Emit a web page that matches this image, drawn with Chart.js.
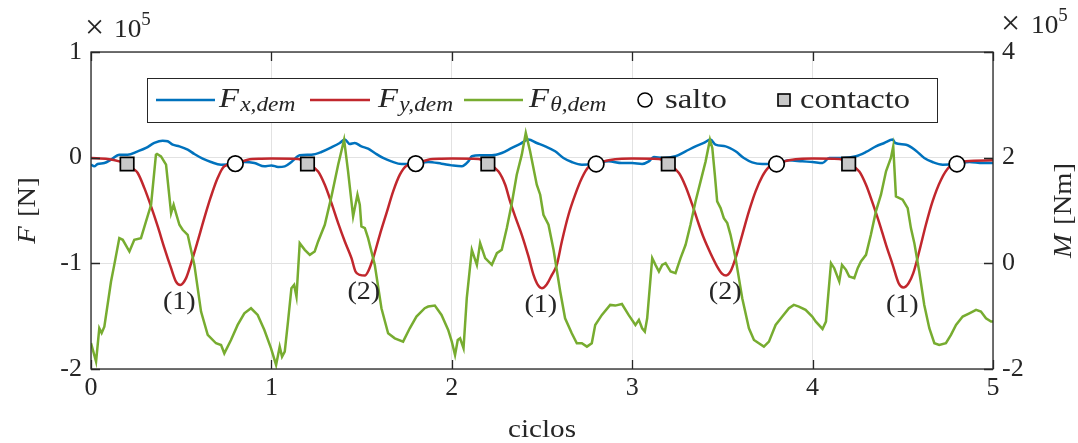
<!DOCTYPE html>
<html>
<head>
<meta charset="utf-8">
<script src="https://cdn.jsdelivr.net/npm/chart.js@4.4.0/dist/chart.umd.min.js"></script>
<style>
  html, body { margin: 0; padding: 0; background: #ffffff; }
  #wrap { width: 1078px; height: 443px; position: relative; }
</style>
</head>
<body>
<div id="wrap"><canvas id="grafico" width="1078" height="443"></canvas></div>
<script>
// Fuerzas en la dirección x (×10^5 N)
const fxCiclos = [0,0.018,0.037,0.074,0.111,0.157,0.203,0.259,0.305,0.351,0.397,0.425,0.453,0.49,0.536,0.573,0.619,0.665,0.721,0.795,0.85,0.906,0.961,
  1.0,1.037,1.074,1.111,1.157,1.222,1.277,1.333,1.379,1.407,1.434,1.462,1.499,1.536,1.573,1.619,1.665,1.721,1.795,1.869,1.943,
  2.0,2.055,2.092,2.111,2.157,2.222,2.277,2.333,2.379,2.425,2.471,2.518,2.573,2.619,2.665,2.721,2.795,2.869,2.943,
  3.0,3.055,3.092,3.12,3.166,3.24,3.296,3.351,3.397,3.434,3.462,3.518,3.573,3.619,3.665,3.721,3.795,3.869,3.943,
  4.0,4.055,4.092,4.166,4.24,4.296,4.351,4.397,4.444,4.458,4.518,4.573,4.619,4.665,4.721,4.795,4.869,4.943,5.0];
const fxValores = [-0.066,-0.082,-0.06,-0.051,-0.019,0.028,0.028,0.06,0.092,0.139,0.161,0.155,0.123,0.107,0.076,0.035,-0.009,-0.041,-0.066,-0.06,-0.041,-0.051,-0.082,
  -0.073,-0.088,-0.082,-0.041,0.022,0.028,0.054,0.098,0.139,0.171,0.13,0.139,0.107,0.085,0.044,-0.003,-0.035,-0.06,-0.057,-0.041,-0.057,
  -0.073,-0.082,-0.035,0.013,0.022,0.022,0.044,0.092,0.13,0.171,0.139,0.107,0.06,-0.003,-0.041,-0.066,-0.057,-0.035,-0.051,
  -0.051,-0.06,-0.035,0.006,-0.003,0.013,0.06,0.107,0.139,0.171,0.123,0.107,0.06,-0.003,-0.044,-0.06,-0.057,-0.025,-0.035,
  -0.041,-0.051,-0.003,-0.003,0.013,0.054,0.107,0.139,0.171,0.139,0.123,0.066,-0.003,-0.041,-0.066,-0.06,-0.041,-0.051,-0.051];

// Fuerzas en la dirección y (×10^5 N)
const fyCiclos = [0,0.092,0.157,0.194,0.24,0.259,0.296,0.333,0.37,0.407,0.444,0.471,0.495,0.527,0.555,0.591,0.628,0.665,0.702,0.739,0.8,0.869,0.943,
  1.0,1.148,1.2,1.259,1.296,1.333,1.37,1.407,1.444,1.466,1.49,1.518,1.536,1.564,1.601,1.638,1.675,1.712,1.749,1.8,1.869,1.943,
  2.0,2.148,2.2,2.259,2.296,2.323,2.351,2.388,2.425,2.453,2.477,2.499,2.527,2.555,2.582,2.61,2.647,2.684,2.721,2.758,2.8,2.869,2.943,
  3.0,3.148,3.2,3.259,3.296,3.333,3.37,3.397,3.434,3.471,3.499,3.521,3.545,3.573,3.61,3.647,3.684,3.721,3.758,3.8,3.869,3.943,
  4.0,4.148,4.2,4.259,4.296,4.333,4.37,4.407,4.444,4.477,4.503,4.532,4.558,4.591,4.628,4.665,4.712,4.758,4.8,4.85,5.0];
const fyValores = [-0.003,-0.012,-0.035,-0.06,-0.114,-0.145,-0.288,-0.461,-0.651,-0.856,-1.046,-1.172,-1.204,-1.14,-0.998,-0.793,-0.572,-0.367,-0.193,-0.082,-0.057,-0.019,-0.01,
  -0.009,-0.012,-0.06,-0.13,-0.256,-0.43,-0.619,-0.793,-0.951,-1.077,-1.109,-1.115,-1.077,-0.951,-0.73,-0.525,-0.319,-0.161,-0.076,-0.057,-0.019,-0.01,
  -0.009,-0.012,-0.06,-0.13,-0.256,-0.414,-0.556,-0.73,-0.935,-1.109,-1.204,-1.235,-1.197,-1.109,-1.014,-0.793,-0.54,-0.35,-0.193,-0.088,-0.06,-0.025,-0.01,
  -0.009,-0.012,-0.06,-0.145,-0.272,-0.445,-0.635,-0.761,-0.904,-1.03,-1.1,-1.115,-1.077,-0.951,-0.73,-0.509,-0.319,-0.177,-0.088,-0.06,-0.025,-0.01,
  -0.009,-0.012,-0.06,-0.13,-0.256,-0.43,-0.619,-0.825,-1.014,-1.188,-1.229,-1.188,-1.093,-0.888,-0.635,-0.414,-0.209,-0.088,-0.06,-0.035,-0.025];

// Momento (×10^5 Nm), eje derecho
const ftCiclos = [0,0.028,0.046,0.059,0.074,0.111,0.129,0.157,0.176,0.213,0.24,0.277,0.305,0.333,0.36,0.366,0.388,0.416,0.444,0.458,0.471,0.49,0.508,0.536,0.573,0.61,0.647,0.693,0.721,0.739,0.776,0.813,0.85,0.887,0.924,0.961,0.998,1.026,
  1.046,1.059,1.074,1.092,1.111,1.126,1.139,1.157,1.185,1.213,1.24,1.259,1.296,1.333,1.37,1.403,1.425,1.453,1.477,1.49,1.499,1.518,1.536,1.573,1.61,1.647,1.684,1.73,1.767,1.804,1.85,1.869,1.906,1.943,1.98,
  2.0,2.018,2.033,2.046,2.065,2.083,2.111,2.139,2.157,2.185,2.222,2.25,2.277,2.305,2.333,2.36,2.388,2.41,2.434,2.471,2.49,2.508,2.536,2.564,2.601,2.628,2.665,2.693,2.721,2.749,2.776,2.795,2.832,2.878,2.906,2.943,2.98,
  3.018,3.037,3.055,3.07,3.083,3.111,3.129,3.148,3.166,3.185,3.213,3.24,3.268,3.296,3.323,3.351,3.379,3.407,3.431,3.444,3.458,3.471,3.49,3.508,3.527,3.545,3.573,3.61,3.647,3.675,3.702,3.73,3.758,3.795,3.832,3.869,3.896,3.924,3.961,3.998,
  4.018,4.055,4.074,4.102,4.12,4.148,4.163,4.185,4.203,4.231,4.25,4.268,4.296,4.323,4.351,4.379,4.407,4.434,4.447,4.462,4.499,4.527,4.545,4.564,4.591,4.619,4.647,4.675,4.702,4.739,4.767,4.795,4.832,4.869,4.906,4.933,4.961,4.989,5.0];
const ftValores = [-1.51,-1.86,-1.23,-1.32,-1.2,-0.344,-0.029,0.477,0.445,0.224,0.445,0.477,0.793,1.109,2.057,2.07,2.025,1.867,0.951,1.109,0.951,0.73,0.635,0.54,-0.029,-0.913,-1.355,-1.513,-1.545,-1.703,-1.45,-1.166,-0.945,-0.85,-0.976,-1.261,-1.608,-1.924,
  -1.577,-1.766,-1.671,-1.103,-0.471,-0.408,-0.629,0.382,0.256,0.161,0.224,0.414,0.73,1.267,1.867,2.341,1.741,0.888,1.299,1.109,0.698,0.667,0.477,-0.029,-0.85,-1.324,-1.419,-1.482,-1.229,-1.008,-0.85,-0.818,-0.8,-0.976,-1.261,
  -1.482,-1.735,-1.45,-1.419,-1.608,-0.66,0.256,-0.029,0.382,0.098,-0.029,0.193,0.256,0.667,1.141,1.678,2.057,2.468,2.12,1.488,1.299,0.919,0.73,0.256,-0.534,-1.04,-1.324,-1.513,-1.513,-1.577,-1.513,-1.166,-0.976,-0.787,-0.8,-0.77,-0.976,
  -1.166,-1.071,-1.229,-1.292,-1.04,0.098,-0.029,-0.155,-0.029,0.003,-0.155,-0.186,0.098,0.351,0.73,1.172,1.551,1.93,2.341,2.183,1.678,1.172,1.046,0.856,0.761,0.54,0.098,-0.66,-1.229,-1.45,-1.513,-1.577,-1.482,-1.166,-1.008,-0.85,-0.787,-0.818,-0.881,-1.008,
  -1.103,-1.242,-1.103,0.003,-0.092,-0.344,-0.029,-0.123,-0.25,-0.281,-0.092,0.035,0.161,0.54,0.983,1.299,1.741,1.994,2.215,1.267,1.204,1.046,0.667,0.382,-0.155,-0.787,-1.229,-1.513,-1.545,-1.513,-1.355,-1.166,-1.008,-0.945,-0.881,-0.913,-1.04,-1.103,-1.103];

// Eventos de la marcha
const saltoCiclos = [0.8, 1.8, 2.8, 3.8, 4.8];
const saltoValores = [-0.057, -0.057, -0.06, -0.06, -0.06];
const contactoCiclos = [0.2, 1.2, 2.2, 3.2, 4.2];
const contactoValores = [-0.06, -0.06, -0.06, -0.06, -0.06];

// Etiquetas de los mínimos de F_y, una por ciclo
const etiquetasMinimos = ['(1)', '(2)', '(1)', '(2)', '(1)'];

// Ticks de los ejes
const ticksCiclos = [0, 1, 2, 3, 4, 5];
const ticksF = [-2, -1, 0, 1];
const ticksM = [-2, 0, 2, 4];

const AZUL = '#0072BD';
const ROJO = '#C1272D';
const VERDE = '#77AC30';
const TINTA = '#262626';
const SERIF = '"Liberation Serif", "Times New Roman", serif';
const FS = 26;
const GROSOR = 2.5;

const serie = (xs, ys) => xs.map((x, i) => ({ x: x, y: ys[i] }));

// Escribe una secuencia de trozos de texto (cursiva, subíndices, superíndices);
// "ancho" estira el texto en horizontal
function texto(ctx, x, y, partes, ancho) {
  const k = ancho || 1;
  ctx.save();
  ctx.translate(x, y);
  ctx.scale(k, 1);
  let cx = 0;
  for (const p of partes) {
    ctx.font = (p.it ? 'italic ' : '') + p.size + 'px ' + SERIF;
    ctx.fillText(p.t, cx, p.dy || 0);
    cx += ctx.measureText(p.t).width + (p.kern || 0);
  }
  ctx.restore();
  return cx * k;
}
function anchoTexto(ctx, partes, ancho) {
  let w = 0;
  for (const p of partes) {
    ctx.font = (p.it ? 'italic ' : '') + p.size + 'px ' + SERIF;
    w += ctx.measureText(p.t).width + (p.kern || 0);
  }
  return w * (ancho || 1);
}

const decoracion = {
  id: 'decoracion',
  afterDatasetsDraw(chart) {
    const ctx = chart.ctx;
    const a = chart.chartArea;
    const sx = chart.scales.x, sy = chart.scales.y, sm = chart.scales.y2;
    ctx.save();

    // etiquetas de los mínimos de F_y
    ctx.fillStyle = TINTA;
    ctx.textBaseline = 'alphabetic';
    for (let k = 0; k < etiquetasMinimos.length; k++) {
      let iMin = -1;
      for (let i = 0; i < fyCiclos.length; i++) {
        if (fyCiclos[i] >= k && fyCiclos[i] < k + 1 && (iMin < 0 || fyValores[i] < fyValores[iMin])) iMin = i;
      }
      const px = sx.getPixelForValue(fyCiclos[iMin]);
      const py = sy.getPixelForValue(fyValores[iMin]);
      const partes = [{ t: etiquetasMinimos[k], size: FS }];
      const w = anchoTexto(ctx, partes, 1.08);
      texto(ctx, px - 1 - w / 2, py + 24, partes, 1.08);
    }

    // caja de los ejes y marcas hacia dentro
    ctx.strokeStyle = TINTA;
    ctx.lineWidth = 1.3;
    ctx.strokeRect(a.left, a.top, a.right - a.left, a.bottom - a.top);
    ctx.beginPath();
    for (const v of ticksCiclos) {
      const px = Math.round(sx.getPixelForValue(v)) + 0.5;
      ctx.moveTo(px, a.bottom); ctx.lineTo(px, a.bottom - 9);
      ctx.moveTo(px, a.top); ctx.lineTo(px, a.top + 9);
    }
    for (const v of ticksF) {
      const py = Math.round(sy.getPixelForValue(v)) + 0.5;
      ctx.moveTo(a.left, py); ctx.lineTo(a.left + 9, py);
    }
    for (const v of ticksM) {
      const py = Math.round(sm.getPixelForValue(v)) + 0.5;
      ctx.moveTo(a.right, py); ctx.lineTo(a.right - 9, py);
    }
    ctx.stroke();

    // leyenda
    const L = { x0: 147, y0: 78, x1: 937, y1: 122 };
    ctx.fillStyle = '#ffffff';
    ctx.fillRect(L.x0, L.y0, L.x1 - L.x0, L.y1 - L.y0);
    ctx.lineWidth = 1;
    ctx.strokeStyle = TINTA;
    ctx.strokeRect(L.x0 + 0.5, L.y0 + 0.5, L.x1 - L.x0, L.y1 - L.y0);
    const yc = 100;
    const entradas = [
      { color: AZUL, l0: 156, l1: 215, tx: 219, sub: 'x,dem' },
      { color: ROJO, l0: 310, l1: 370, tx: 378, sub: 'y,dem' },
      { color: VERDE, l0: 464, l1: 523, tx: 529, sub: '\u03b8,dem' }
    ];
    ctx.textAlign = 'left';
    ctx.textBaseline = 'alphabetic';
    for (const e of entradas) {
      ctx.strokeStyle = e.color;
      ctx.lineWidth = GROSOR;
      ctx.beginPath(); ctx.moveTo(e.l0, yc); ctx.lineTo(e.l1, yc); ctx.stroke();
      ctx.fillStyle = TINTA;
      texto(ctx, e.tx, 107, [
        { t: 'F', it: true, size: 28, kern: 1 },
        { t: e.sub, it: true, size: 20, dy: 4 }
      ], 1.17);
    }
    // marcador de salto
    ctx.lineWidth = 1.6;
    ctx.strokeStyle = '#000';
    ctx.fillStyle = '#fff';
    ctx.beginPath(); ctx.arc(645, yc, 7, 0, Math.PI * 2); ctx.fill(); ctx.stroke();
    ctx.fillStyle = TINTA;
    texto(ctx, 665, 108, [{ t: 'salto', size: 28 }], 1.17);
    // marcador de contacto
    ctx.fillStyle = '#c8c8c8';
    ctx.fillRect(778, yc - 6, 12, 12);
    ctx.strokeRect(778, yc - 6, 12, 12);
    ctx.fillStyle = TINTA;
    texto(ctx, 800, 108, [{ t: 'contacto', size: 28 }], 1.16);

    ctx.restore();
  },
  afterDraw(chart) {
    const ctx = chart.ctx;
    const a = chart.chartArea;
    ctx.save();
    ctx.fillStyle = TINTA;
    ctx.textAlign = 'left';
    ctx.textBaseline = 'alphabetic';

    // factores de escala de los ejes
    texto(ctx, 85, 38, [{ t: '\u00d7', size: 34 }]);
    texto(ctx, 114, 37, [{ t: '10', size: FS }, { t: '5', size: 18, dy: -12 }], 1.05);
    texto(ctx, 1001, 34, [{ t: '\u00d7', size: 34 }]);
    texto(ctx, 1031, 33, [{ t: '10', size: FS }, { t: '5', size: 18, dy: -12 }], 1.05);

    // título del eje x
    const tituloX = [{ t: 'ciclos', size: FS }];
    const wx = anchoTexto(ctx, tituloX, 1.12);
    texto(ctx, (a.left + a.right) / 2 - wx / 2, 437, tituloX, 1.12);

    // títulos de los ejes verticales
    const cy = (a.top + a.bottom) / 2;
    const tituloF = [{ t: 'F', it: true, size: FS, kern: 2 }, { t: ' [N]', size: FS }];
    ctx.save();
    ctx.translate(35, cy);
    ctx.rotate(-Math.PI / 2);
    texto(ctx, -anchoTexto(ctx, tituloF, 1.1) / 2, 0, tituloF, 1.1);
    ctx.restore();

    const tituloM = [{ t: 'M', it: true, size: FS, kern: 2 }, { t: ' [Nm]', size: FS }];
    ctx.save();
    ctx.translate(1071, cy);
    ctx.rotate(-Math.PI / 2);
    texto(ctx, -anchoTexto(ctx, tituloM, 1.1) / 2, 0, tituloM, 1.1);
    ctx.restore();

    ctx.restore();
  }
};

const fuenteTicks = { family: SERIF, size: FS };

new Chart(document.getElementById('grafico'), {
  type: 'line',
  data: {
    datasets: [
      {
        label: 'contacto', data: serie(contactoCiclos, contactoValores), yAxisID: 'y',
        showLine: false, pointStyle: 'rect', pointRadius: 9.5, pointBackgroundColor: '#c8c8c8',
        pointBorderColor: '#000', pointBorderWidth: 1.7
      },
      {
        label: 'salto', data: serie(saltoCiclos, saltoValores), yAxisID: 'y',
        showLine: false, pointStyle: 'circle', pointRadius: 7.8, pointBackgroundColor: '#ffffff',
        pointBorderColor: '#000', pointBorderWidth: 1.7
      },
      {
        label: 'F_theta,dem', data: serie(ftCiclos, ftValores), yAxisID: 'y2',
        borderColor: VERDE, borderWidth: GROSOR, pointRadius: 0, tension: 0, fill: false
      },
      {
        label: 'F_y,dem', data: serie(fyCiclos, fyValores), yAxisID: 'y',
        borderColor: ROJO, borderWidth: GROSOR, pointRadius: 0, cubicInterpolationMode: 'monotone', fill: false
      },
      {
        label: 'F_x,dem', data: serie(fxCiclos, fxValores), yAxisID: 'y',
        borderColor: AZUL, borderWidth: GROSOR, pointRadius: 0, cubicInterpolationMode: 'monotone', fill: false
      }
    ]
  },
  options: {
    responsive: false,
    animation: false,
    devicePixelRatio: 1,
    layout: { padding: { top: 52, left: 0, right: 0, bottom: 0 } },
    plugins: { legend: { display: false }, tooltip: { enabled: false }, title: { display: false } },
    scales: {
      x: {
        type: 'linear', min: 0, max: 5,
        afterBuildTicks: s => { s.ticks = ticksCiclos.map(v => ({ value: v })); },
        afterFit: s => { s.height = 74; },
        ticks: { font: fuenteTicks, color: TINTA, padding: 4, maxRotation: 0 },
        grid: { color: '#e2e2e2', lineWidth: 1, drawTicks: false },
        border: { display: false }
      },
      y: {
        position: 'left', min: -2, max: 1,
        afterBuildTicks: s => { s.ticks = ticksF.map(v => ({ value: v })); },
        afterFit: s => { s.width = 91; },
        ticks: { font: fuenteTicks, color: TINTA, padding: 9 },
        grid: { color: '#e2e2e2', lineWidth: 1, drawTicks: false },
        border: { display: false }
      },
      y2: {
        position: 'right', min: -2, max: 4,
        afterBuildTicks: s => { s.ticks = ticksM.map(v => ({ value: v })); },
        afterFit: s => { s.width = 85; },
        ticks: { font: fuenteTicks, color: TINTA, padding: 9 },
        grid: { display: false, drawTicks: false },
        border: { display: false }
      }
    }
  },
  plugins: [decoracion]
});
</script>
</body>
</html>
